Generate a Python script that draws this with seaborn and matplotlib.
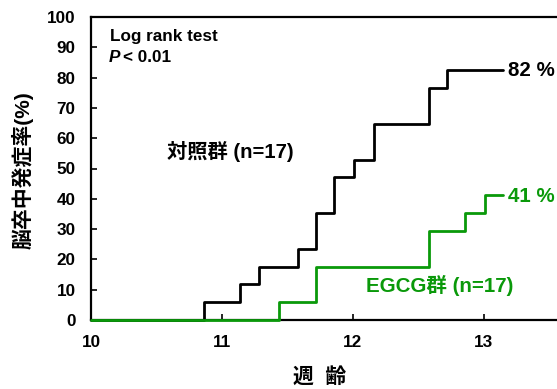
import matplotlib
matplotlib.use("Agg")
import matplotlib.pyplot as plt
import seaborn as sns
import pandas as pd

# ---- data ----
ctrl_weeks = [10.0, 10.86, 11.14, 11.28, 11.58, 11.72, 11.86, 12.01, 12.16, 12.58, 12.72, 13.15]
ctrl_pct = [0.0, 5.9, 11.8, 17.6, 23.5, 35.3, 47.1, 52.9, 64.7, 76.5, 82.4, 82.4]
egcg_weeks = [10.0, 11.44, 11.72, 12.58, 12.86, 13.01, 13.15]
egcg_pct = [0.0, 5.9, 17.6, 29.4, 35.3, 41.2, 41.2]
group_names = ["対照群", "EGCG群"]
x_ticks = [10, 11, 12, 13]
y_ticks = list(range(0, 101, 10))

sns.set_theme(style="ticks")
plt.rcParams['font.family'] = ['Liberation Sans', 'Noto Sans CJK JP', 'DejaVu Sans']
plt.rcParams['font.weight'] = 'bold'
plt.rcParams['text.color'] = 'black'

GREEN = "#0a990a"
W, H = 557, 389
fig = plt.figure(figsize=(W / 100, H / 100), dpi=100)
ax = fig.add_axes([91 / W, 1 - 320 / H, 1 - 91 / W, (320 - 17) / H])

df = pd.concat([
    pd.DataFrame({"week": ctrl_weeks, "pct": ctrl_pct, "group": group_names[0]}),
    pd.DataFrame({"week": egcg_weeks, "pct": egcg_pct, "group": group_names[1]}),
])
palette = {group_names[0]: "black", group_names[1]: GREEN}
sns.lineplot(data=df, x="week", y="pct", hue="group", palette=palette,
             drawstyle="steps-post", linewidth=2.0, legend=False, ax=ax,
             estimator=None, sort=False, clip_on=False, zorder=3)

ax.set_xlim(10, 13.56)
ax.set_ylim(0, 100)
ax.set_xticks(x_ticks)
ax.set_yticks(y_ticks)
ax.set_xlabel("")
ax.set_ylabel("")
for s in ["left", "bottom", "top"]:
    ax.spines[s].set_linewidth(1.6)
    ax.spines[s].set_color("black")
ax.spines["right"].set_visible(False)
ax.tick_params(direction="in", length=4, width=1.2, colors="black",
               labelsize=12.3, pad=11)
ax.tick_params(axis="x", pad=11)
for lab in ax.get_xticklabels() + ax.get_yticklabels():
    lab.set_fontweight("bold")
    lab.set_color("black")

def ft(x, y, s, color="black", **kw):
    fig.text(x / W, 1 - y / H, s, fontweight="bold", color=color, **kw)

ft(110, 37, "Log rank test", fontsize=12.3, va="center", ha="left")
ft(109, 57, "P", fontsize=12.3, va="center", ha="left", style="italic")
ft(123, 57, "< 0.01", fontsize=12.3, va="center", ha="left")
ft(167, 152, "対照群 (n=17)", fontsize=14.6, va="center", ha="left")
ft(366, 285, "EGCG群 (n=17)", fontsize=14.8, va="center", ha="left", color=GREEN)
ft(508, 70, "82 %", fontsize=14.8, va="center", ha="left")
ft(508, 196, "41 %", fontsize=14.8, va="center", ha="left", color=GREEN)
ft(320, 377, "週  齢", fontsize=15, va="center", ha="center")
ft(23, 170, "脳卒中発症率(%)", fontsize=15, va="center", ha="center", rotation=90)

fig.savefig("out.png", dpi=100)
